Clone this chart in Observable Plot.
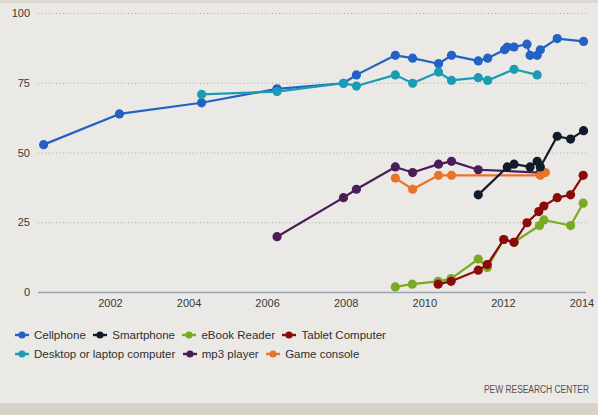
<!DOCTYPE html>
<html>
<head>
<meta charset="utf-8">
<script src="https://cdn.jsdelivr.net/npm/d3@7"></script>
<script src="https://cdn.jsdelivr.net/npm/@observablehq/plot@0.6"></script>
<style>
  html, body { margin: 0; padding: 0; }
  body { width: 598px; height: 415px; background: #ebe9e6; position: relative; overflow: hidden; font-family: "Liberation Sans", Arial, sans-serif; }
  #topband { position: absolute; left: 0; top: 0; width: 598px; height: 3px; background: #dcd7cf; }
  #botband { position: absolute; left: 0; top: 403px; width: 598px; height: 12px; background: #d8d2c8; }
  #chart { position: absolute; left: 0; top: 0; }
  #legend { position: absolute; left: 15px; top: 325px; font-size: 11.5px; color: #2e2e2e; }
  .lrow { display: flex; align-items: center; height: 19.5px; white-space: nowrap; }
  .litem { display: flex; align-items: center; margin-right: 7.5px; }
  .litem svg { margin-right: 5px; }
  #caption { position: absolute; right: 9px; top: 384px; font-size: 10px; color: #505050; transform: scaleX(0.84); transform-origin: right center; white-space: nowrap; }
</style>
</head>
<body>
<div id="topband"></div>
<div id="chart"></div>
<div id="legend"></div>
<div id="caption">PEW RESEARCH CENTER</div>
<div id="botband"></div>
<script>
// ---- data ----
const seriesNames = ["Cellphone", "Desktop or laptop computer", "mp3 player", "Game console", "Smartphone", "eBook Reader", "Tablet Computer"];
const seriesColors = ["#2361c4", "#1b9cb4", "#4b1d58", "#e9732a", "#101b2b", "#79aa1f", "#8b0a0a"];
const legendOrder = [["Cellphone", "Smartphone", "eBook Reader", "Tablet Computer"], ["Desktop or laptop computer", "mp3 player", "Game console"]];

const cellphoneYears  = [2000.30, 2002.23, 2004.32, 2006.24, 2007.93, 2008.26, 2009.25, 2009.69, 2010.35, 2010.68, 2011.36, 2011.60, 2012.03, 2012.10, 2012.27, 2012.60, 2012.68, 2012.86, 2012.94, 2013.37, 2014.04];
const cellphoneValues = [53, 64, 68, 73, 75, 78, 85, 84, 82, 85, 83, 84, 87, 88, 88, 89, 85, 85, 87, 91, 90];

const desktopYears  = [2004.32, 2006.24, 2007.93, 2008.26, 2009.25, 2009.69, 2010.35, 2010.68, 2011.36, 2011.60, 2012.27, 2012.86];
const desktopValues = [71, 72, 75, 74, 78, 75, 79, 76, 77, 76, 80, 78];

const mp3Years  = [2006.24, 2007.93, 2008.26, 2009.25, 2009.69, 2010.35, 2010.68, 2011.36, 2012.94];
const mp3Values = [20, 34, 37, 45, 43, 46, 47, 44, 43];

const gameYears  = [2009.25, 2009.69, 2010.35, 2010.68, 2012.94, 2013.07];
const gameValues = [41, 37, 42, 42, 42, 43];

const smartphoneYears  = [2011.36, 2012.10, 2012.27, 2012.68, 2012.86, 2012.94, 2013.37, 2013.71, 2014.04];
const smartphoneValues = [35, 45, 46, 45, 47, 45, 56, 55, 58];

const ebookYears  = [2009.25, 2009.68, 2010.34, 2010.67, 2011.36, 2011.59, 2012.01, 2012.27, 2012.92, 2013.03, 2013.71, 2014.03];
const ebookValues = [2, 3, 4, 5, 12, 9, 19, 18, 24, 26, 24, 32];

const tabletYears  = [2010.34, 2010.67, 2011.36, 2011.59, 2012.01, 2012.27, 2012.60, 2012.90, 2013.03, 2013.37, 2013.71, 2014.03];
const tabletValues = [3, 4, 8, 10, 19, 18, 25, 29, 31, 34, 35, 42];

const xTicks = [2002, 2004, 2006, 2008, 2010, 2012, 2014];
const yTicks = [0, 25, 50, 75, 100];

// ---- build table ----
const seriesData = [
  [cellphoneYears, cellphoneValues],
  [desktopYears, desktopValues],
  [mp3Years, mp3Values],
  [gameYears, gameValues],
  [smartphoneYears, smartphoneValues],
  [ebookYears, ebookValues],
  [tabletYears, tabletValues]
];
const rows = seriesData.flatMap(([ys, vs], i) => ys.map((yr, j) => ({series: seriesNames[i], year: yr, value: vs[j]})));

const seriesMarks = seriesNames.flatMap(name => {
  const d = rows.filter(r => r.series === name);
  return [
    Plot.line(d, {x: "year", y: "value", stroke: "series", strokeWidth: 2.2, strokeLinejoin: "round"}),
    Plot.dot(d, {x: "year", y: "value", fill: "series", r: 4.6, stroke: "none"})
  ];
});

const chart = Plot.plot({
  width: 598,
  height: 312,
  marginTop: 13,
  marginBottom: 20,
  marginLeft: 38,
  marginRight: 12,
  style: {background: "transparent", fontFamily: "Liberation Sans, Arial, sans-serif", fontSize: "11px", color: "#383838"},
  x: {domain: [2000.17, 2014.115], ticks: xTicks, tickFormat: d => String(d), tickSize: 0, tickPadding: 7, label: null},
  y: {domain: [0, 100], ticks: yTicks, tickSize: 0, tickPadding: 8.5, label: null},
  color: {domain: seriesNames, range: seriesColors},
  marks: [
    Plot.ruleY(yTicks.filter(d => d > 0), {stroke: "#a8a8a8", strokeDasharray: "1,2.6", strokeWidth: 1}),
    Plot.ruleY([0], {stroke: "#98a3b4", strokeWidth: 1.6}),
    ...seriesMarks
  ]
});
document.getElementById("chart").appendChild(chart);

// ---- legend ----
const legend = document.getElementById("legend");
legendOrder.forEach(rowNames => {
  const row = document.createElement("div");
  row.className = "lrow";
  rowNames.forEach(name => {
    const color = seriesColors[seriesNames.indexOf(name)];
    const item = document.createElement("div");
    item.className = "litem";
    item.innerHTML = `<svg width="14" height="10"><line x1="0" y1="5" x2="14" y2="5" stroke="${color}" stroke-width="2.4"/><circle cx="7" cy="5" r="3.6" fill="${color}"/></svg><span>${name}</span>`;
    row.appendChild(item);
  });
  legend.appendChild(row);
});
</script>
</body>
</html>
